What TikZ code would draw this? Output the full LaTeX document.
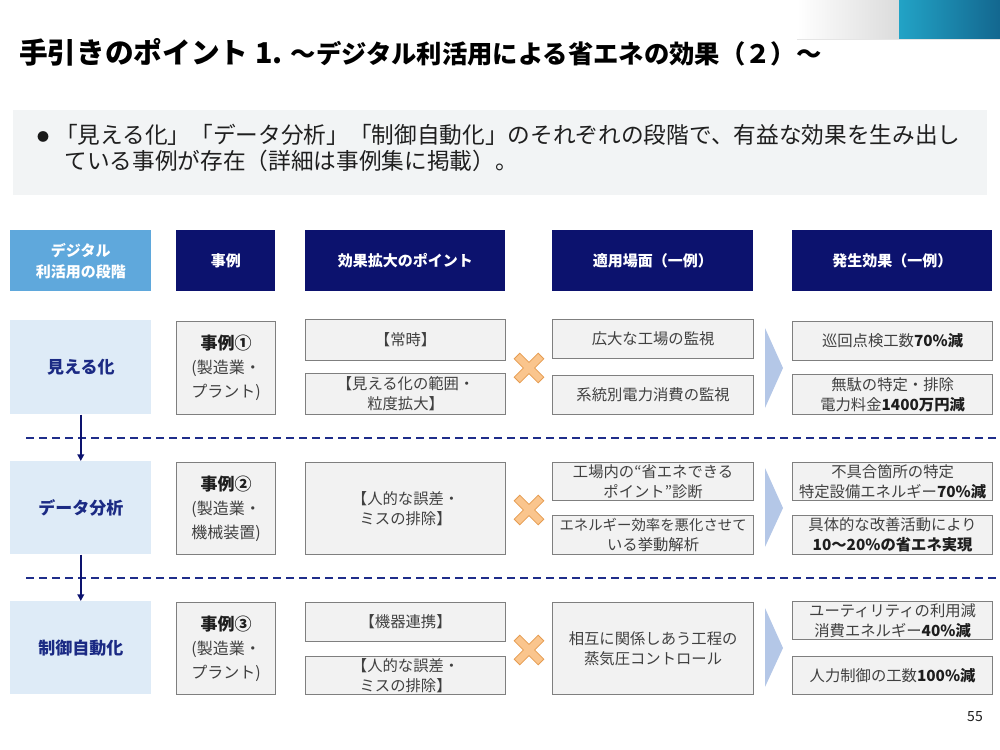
\documentclass[tikz,border=0pt]{standalone}
\usepackage{fontspec}
\setmainfont{Noto Sans CJK JP}
\usetikzlibrary{arrows.meta}

\definecolor{navy}{RGB}{12,18,110}
\definecolor{skyhdr}{RGB}{95,168,220}
\definecolor{stagebg}{RGB}{222,235,247}
\definecolor{stagetx}{RGB}{27,42,132}
\definecolor{boxbg}{RGB}{242,242,242}
\definecolor{boxln}{RGB}{127,127,127}
\definecolor{boxtx}{RGB}{64,64,64}
\definecolor{boxdark}{RGB}{30,30,30}
\definecolor{notebg}{RGB}{242,244,245}
\definecolor{xfill}{RGB}{250,197,141}
\definecolor{xline}{RGB}{229,155,80}
\definecolor{chev}{RGB}{180,199,231}
\definecolor{sepline}{RGB}{31,45,138}
\definecolor{tealA}{RGB}{34,163,198}
\definecolor{tealB}{RGB}{19,103,143}

% box at top-left corner, size in px
\newcommand\boxat[6]{\node[#1, anchor=north west, minimum width=#4*0.75pt, minimum height=#5*0.75pt] (#2) at (#3) {#6};}
\newcommand\hilite[1]{\textbf{\color{boxdark}#1}}

\begin{document}
\begin{tikzpicture}[x=0.75pt, y=-0.75pt,
    hdr/.style={fill=navy, text=white, align=center, inner sep=0, font=\bfseries\fontsize{11.25}{15.75}\selectfont},
    hdrl/.style={hdr, fill=skyhdr},
    stage/.style={fill=stagebg, text=stagetx, inner sep=0, font=\bfseries\fontsize{12.75}{16}\selectfont},
    gbox/.style={draw=boxln, fill=boxbg, line width=0.9pt, text=boxtx, align=center, inner sep=0, font=\fontsize{11.5}{15}\selectfont},
    case/.style={gbox, font=\fontsize{12}{18}\selectfont},
    xmark/.style={fill=xfill, draw=xline, line width=0.6pt},
    flow/.style={draw=navy, line width=1.2pt, -{Triangle[length=5pt, width=5pt]}},
    sep/.style={draw=sepline, line width=1.5pt, dash pattern=on 6pt off 3.75pt}]
\useasboundingbox (0,0) rectangle (1000,750);

% top corner band
\shade[left color=white, right color=black!14] (797,0) rectangle (899,39);
\shade[left color=tealA, right color=tealB] (899,0) rectangle (1000,39);
\draw[black!10, line width=0.6pt] (797,39.5) -- (1000,39.5);

\node[anchor=base west, inner sep=0, text=black, font=\bfseries\fontsize{19}{22}\selectfont] (title) at (19,63)
  {{\fontsize{21.5}{24}\selectfont 手引きのポイント 1.}\hspace{6pt}～デジタル利活用による省エネの効果（２）～};

\fill[notebg] (13,110) rectangle (987,195);
\node[font=\fontsize{9}{9}\selectfont, text=black!90] (dot) at (43,137) {●};
\node[anchor=north west, align=left, inner sep=0, text=black!88, font=\fontsize{17}{19.5}\selectfont] (note) at (55,124)
  {「見える化」「データ分析」「制御自動化」のそれぞれの段階で、有益な効果を生み出し\\
   \hspace{7pt}ている事例が存在（詳細は事例集に掲載）。};

% header row
\boxat{hdrl}{hStage}{10,230}{141}{61}{デジタル\\利活用の段階}
\boxat{hdr}{hCase}{176,230}{99}{61}{事例}
\boxat{hdr}{hPoint}{305,230}{200}{61}{効果拡大のポイント}
\boxat{hdr}{hScene}{552,230}{201}{61}{適用場面（一例）}
\boxat{hdr}{hEffect}{792,230}{200}{61}{発生効果（一例）}

% row 1
\boxat{stage}{sVis}{10,320}{141}{94}{見える化}
\boxat{case}{cVis}{176,321}{99}{93}{\hilite{\fontsize{12.75}{18}\selectfont 事例①}\\(製造業・\\プラント)}
\boxat{gbox}{pVisA}{305,319}{200}{41}{【常時】}
\boxat{gbox}{pVisB}{305,373}{200}{41}{【見える化の範囲・\\粒度拡大】}
\boxat{gbox}{aVisA}{552,319}{201}{39}{広大な工場の監視}
\boxat{gbox}{aVisB}{552,375}{201}{39}{系統別電力消費の監視}
\boxat{gbox}{eVisA}{792,321}{200}{39}{巡回点検工数\hilite{70\%減}}
\boxat{gbox}{eVisB}{792,374}{200}{40}{無駄の特定・排除\\電力料金\hilite{1400万円減}}
\draw[xmark, shift={(529,368)}, rotate=45] (17,4) -- (4,4) -- (4,17) -- (-4,17) -- (-4,4) -- (-17,4) -- (-17,-4) -- (-4,-4) -- (-4,-17) -- (4,-17) -- (4,-4) -- (17,-4) -- cycle;
\fill[chev] (765,328) -- (783,368) -- (765,408) -- cycle;

\draw[sep] (26,438) -- (1000,438);

% row 2
\boxat{stage}{sAna}{10,461}{141}{93}{データ分析}
\boxat{case}{cAna}{176,462}{99}{92}{\hilite{\fontsize{12.75}{18}\selectfont 事例②}\\(製造業・\\機械装置)}
\boxat{gbox}{pAna}{305,462}{200}{92}{【人的な誤差・\\ミスの排除】}
\boxat{gbox}{aAnaA}{552,462}{201}{38}{工場内の“省エネできる\\ポイント”診断}
\boxat{gbox}{aAnaB}{552,515}{201}{39}{\fontsize{10.8}{15}\selectfont エネルギー効率を悪化させて\\いる挙動解析}
\boxat{gbox}{eAnaA}{792,462}{200}{38}{不具合箇所の特定\\特定設備エネルギー\hilite{70\%減}}
\boxat{gbox}{eAnaB}{792,515}{200}{39}{具体的な改善活動により\\\hilite{10～20\%の省エネ実現}}
\draw[xmark, shift={(529,510)}, rotate=45] (17,4) -- (4,4) -- (4,17) -- (-4,17) -- (-4,4) -- (-17,4) -- (-17,-4) -- (-4,-4) -- (-4,-17) -- (4,-17) -- (4,-4) -- (17,-4) -- cycle;
\fill[chev] (765,468) -- (783,508) -- (765,547) -- cycle;

\draw[sep] (26,578) -- (1000,578);

% row 3
\boxat{stage}{sCtl}{10,601}{141}{93}{制御自動化}
\boxat{case}{cCtl}{176,602}{99}{92}{\hilite{\fontsize{12.75}{18}\selectfont 事例③}\\(製造業・\\プラント)}
\boxat{gbox}{pCtlA}{305,602}{200}{39}{【機器連携】}
\boxat{gbox}{pCtlB}{305,656}{200}{38}{【人的な誤差・\\ミスの排除】}
\boxat{gbox}{aCtl}{552,602}{201}{92}{相互に関係しあう工程の\\蒸気圧コントロール}
\boxat{gbox}{eCtlA}{792,601}{200}{38}{ユーティリティの利用減\\消費エネルギー\hilite{40\%減}}
\boxat{gbox}{eCtlB}{792,656}{200}{38}{人力制御の工数\hilite{100\%減}}
\draw[xmark, shift={(529,650)}, rotate=45] (17,4) -- (4,4) -- (4,17) -- (-4,17) -- (-4,4) -- (-17,4) -- (-17,-4) -- (-4,-4) -- (-4,-17) -- (4,-17) -- (4,-4) -- (17,-4) -- cycle;
\fill[chev] (765,608) -- (783,648) -- (765,687) -- cycle;

% stage arrows
\draw[flow] (sVis.south) -- (sAna.north);
\draw[flow] (sAna.south) -- (sCtl.north);

\node[text=boxdark, font=\fontsize{10.5}{12}\selectfont] (pageno) at (975,717) {55};
\end{tikzpicture}
\end{document}
